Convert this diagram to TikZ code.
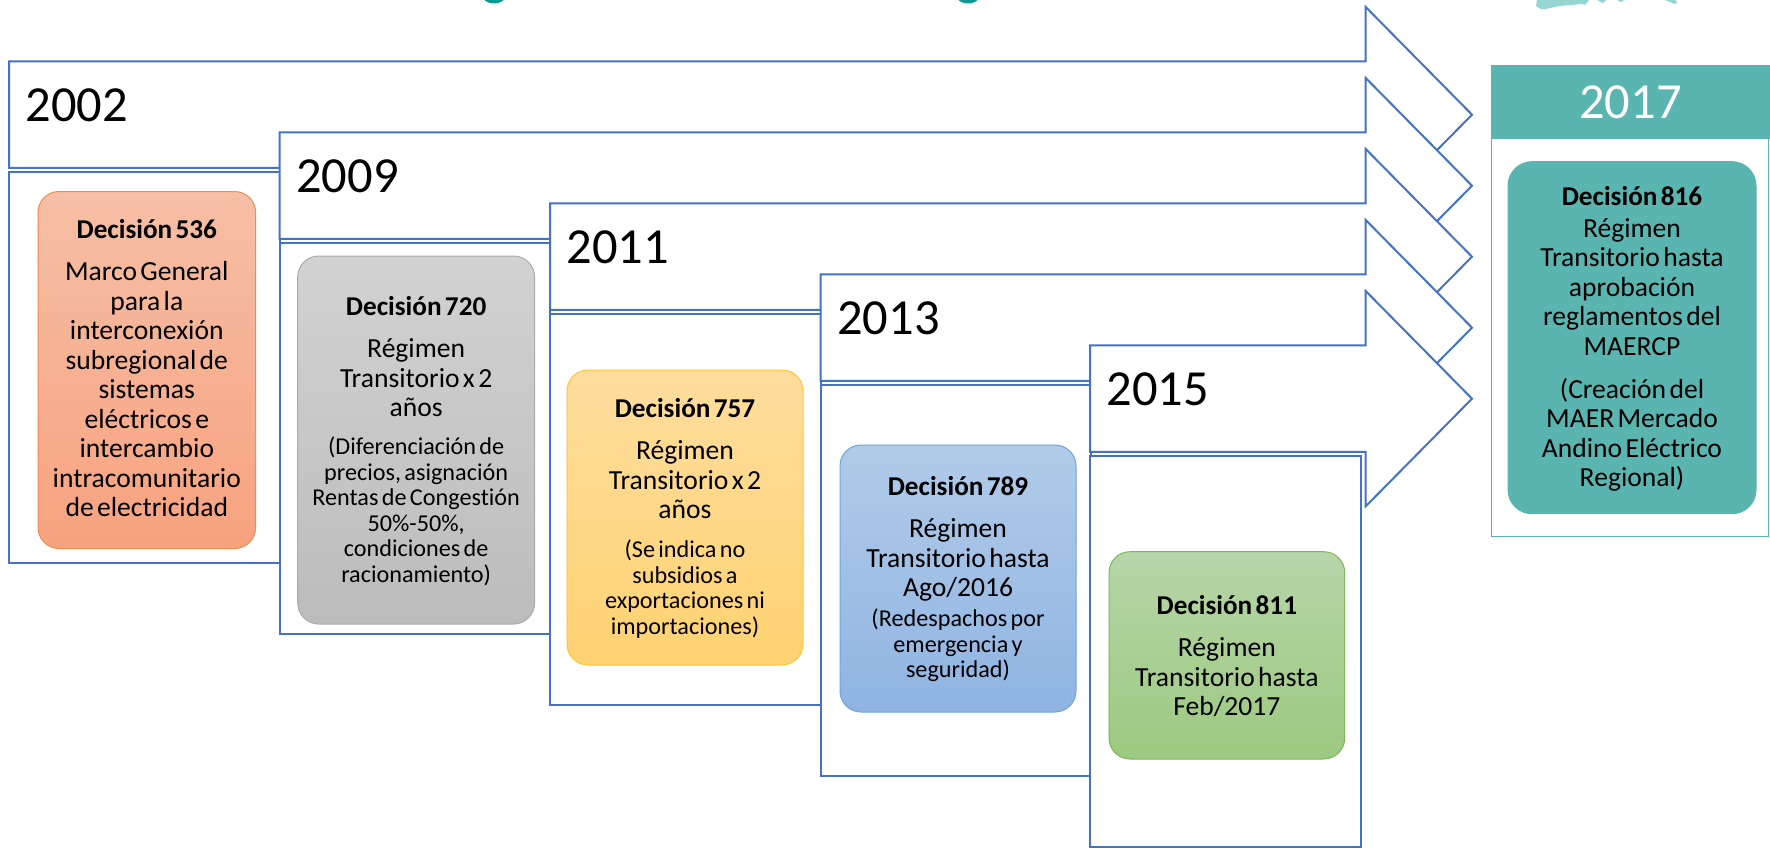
\documentclass[tikz,border=0pt]{standalone}
\usepackage{fontspec}
\setmainfont{Carlito}[RawFeature={-liga},WordSpace=1.4]
\definecolor{linkblue}{HTML}{4472C4}
\definecolor{tealmain}{HTML}{5AB5B0}
\definecolor{titleteal}{HTML}{0E9A94}
\definecolor{logoteal}{HTML}{95D5D2}
\tikzset{
  yearlabel/.style={anchor=base west,inner sep=0pt,font=\fontsize{50.5}{55}\selectfont,text=black},
  panelbox/.style={draw=linkblue,line width=2pt,fill=white},
  arrowbox/.style={draw=linkblue,line width=2pt,fill=white,line join=miter},
  cardbox/.style={rounded corners=21pt,line width=1pt,inner sep=0pt,text=black,align=center},
  orangecard/.style={cardbox,draw=F-orange,top color=F-orangeA,bottom color=F-orangeB},
  graycard/.style={cardbox,draw=F-gray,top color=F-grayA,bottom color=F-grayB},
  yellowcard/.style={cardbox,draw=F-yellow,top color=F-yellowA,bottom color=F-yellowB},
  bluecard/.style={cardbox,draw=F-blue,top color=F-blueA,bottom color=F-blueB},
  greencard/.style={cardbox,draw=F-green,top color=F-greenA,bottom color=F-greenB},
  tealcard/.style={cardbox,draw=tealmain,fill=tealmain,rounded corners=24pt},
}
\definecolor{F-orange}{HTML}{F08C50}\definecolor{F-orangeA}{HTML}{F6BFA6}\definecolor{F-orangeB}{HTML}{F7A27F}
\definecolor{F-gray}{HTML}{ABABAB}\definecolor{F-grayA}{HTML}{D2D2D2}\definecolor{F-grayB}{HTML}{BCBCBC}
\definecolor{F-yellow}{HTML}{FFC62E}\definecolor{F-yellowA}{HTML}{FFDD9E}\definecolor{F-yellowB}{HTML}{FFD272}
\definecolor{F-blue}{HTML}{6FA5DB}\definecolor{F-blueA}{HTML}{B1CBE9}\definecolor{F-blueB}{HTML}{8FB4E2}
\definecolor{F-green}{HTML}{7FB65A}\definecolor{F-greenA}{HTML}{B7D6A9}\definecolor{F-greenB}{HTML}{9CC97F}
\newcommand{\dhead}[1]{{\fontsize{27.2}{27}\bfseries\selectfont #1\par}}
\newcommand{\dbody}[1]{{\fontsize{27.6}{29.5}\selectfont #1\par}}
\newcommand{\dnote}[1]{{\fontsize{24.2}{25.5}\selectfont #1\par}}
% \yearstep{name}{left}{top}{year}{panel bottom}
\newcommand{\yearstep}[5]{%
  \pgfmathsetmacro{\pb}{#2+270.5}%
  \draw[panelbox] (#2,#3+111) rectangle (\pb,#5);
  \draw[arrowbox] (#2,#3) -- (1365.7,#3) -- (1365.7,#3-54.3) -- (1472,#3+53.4)
     -- (1365.7,#3+161) -- (1365.7,#3+106.5) -- (#2,#3+106.5) -- cycle;
  \node[yearlabel] (#1) at (#2+16.5,#3+60.5) {#4};
}
% \card{name}{l}{t}{r}{b}{style}{text}
\newcommand{\card}[7]{%
  \node[#6,minimum width={#4-#2},minimum height={#5-#3},text width={#4-#2}]
    (#1) at ({(#2+#4)/2},{(#3+#5)/2}) {#7};
}
\begin{document}
\begin{tikzpicture}[x=1pt,y=-1pt]
\useasboundingbox (0,0) rectangle (1770,851);
% fragments of the cropped title and logo
\begin{scope}
  \clip (0,0) rectangle (1770,851);
  \fill[titleteal] (494,-4) ellipse (11.5pt and 7.5pt);
  \fill[titleteal] (968,-4) ellipse (11.5pt and 7.5pt);
  \fill[logoteal] (1537,0) -- (1536,6) -- (1541,9) -- (1545,9) -- (1560,6) -- (1582,4) -- (1585,5) -- (1589,0) -- cycle;
  \fill[logoteal] (1597,0) -- (1603,3) -- (1606,0) -- cycle;
  \fill[logoteal] (1617,0) -- (1621,2) -- (1624,0) -- cycle;
  \fill[logoteal] (1665,0) -- (1675,4) -- (1677,2) -- (1675,0) -- cycle;
\end{scope}
% steps
\yearstep{y2002}{9}{61.3}{2002}{562.5}
\yearstep{y2009}{279.5}{132.3}{2009}{633.5}
\yearstep{y2011}{550}{203.3}{2011}{705}
\yearstep{y2013}{820.5}{274.3}{2013}{775.5}
\yearstep{y2015}{1090}{345.3}{2015}{847}
% 2017 column
\draw[draw=tealmain,line width=1.2pt,fill=white] (1491.5,134) rectangle (1768.7,536.5);
\node[fill=tealmain,minimum width=279pt,minimum height=74pt,inner sep=0pt,text=white,font=\fontsize{50.5}{55}\selectfont] (y2017) at (1630.5,102) {\raisebox{-2pt}{2017}};
% cards
\card{c536}{38}{191.5}{255.6}{548.5}{orangecard}{%
  \dhead{Decisión 536}\vspace{12.5pt}%
  \dbody{Marco General\\para la\\interconexión\\subregional de\\sistemas\\eléctricos e\\intercambio\\intracomunitario\\de electricidad}\vspace{3pt}}
\card{c720}{297.7}{256}{534.6}{624}{graycard}{%
  \dhead{Decisión 720}\vspace{13pt}%
  \dbody{Régimen\\Transitorio x 2\\años}\vspace{12.5pt}%
  \dnote{(Diferenciación de\\precios, asignación\\Rentas de Congestión\\50\%-50\%,\\condiciones de\\racionamiento)}\vspace{-1.5pt}}
\card{c757}{567}{370}{803}{665}{yellowcard}{%
  \dhead{Decisión 757}\vspace{13pt}%
  \dbody{Régimen\\Transitorio x 2\\años}\vspace{13.5pt}%
  \dnote{(Se indica no\\subsidios a\\exportaciones ni\\importaciones)}\vspace{-1pt}}
\card{c789}{840}{445}{1076}{712}{bluecard}{%
  \dhead{Decisión 789}\vspace{13pt}%
  \dbody{Régimen\\Transitorio hasta\\Ago/2016}\vspace{4.5pt}%
  \dnote{(Redespachos por\\emergencia y\\seguridad)}\vspace{-1pt}}
\card{c811}{1109}{551.7}{1344.7}{759}{greencard}{%
  \dhead{Decisión 811}\vspace{12.5pt}%
  \dbody{Régimen\\Transitorio hasta\\Feb/2017}\vspace{-2pt}}
\card{c816}{1508}{161.7}{1756}{513.7}{tealcard}{%
  \dhead{Decisión 816}\vspace{2.5pt}%
  \dbody{Régimen\\Transitorio hasta\\aprobación\\reglamentos del\\MAERCP}\vspace{13.5pt}%
  \dbody{(Creación del\\MAER Mercado\\Andino Eléctrico\\Regional)}\vspace{-2pt}}
\end{tikzpicture}
\end{document}
